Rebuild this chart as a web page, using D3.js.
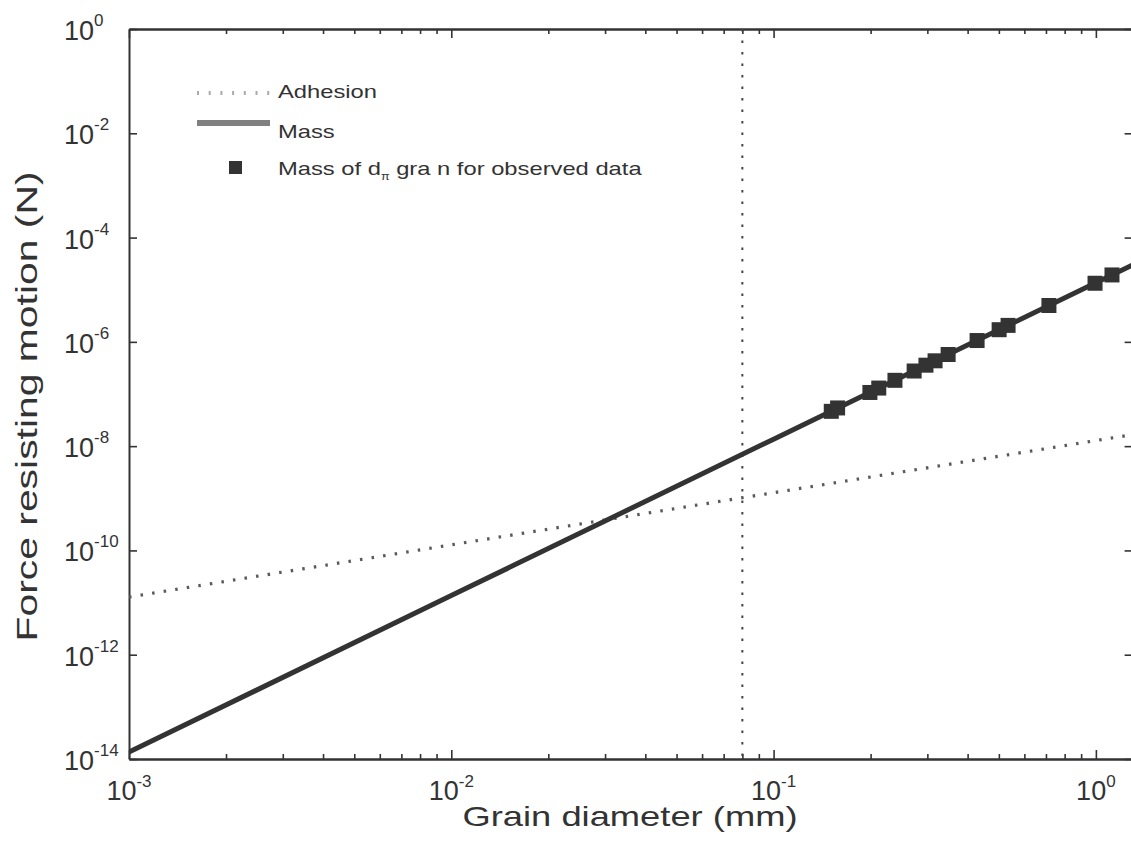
<!DOCTYPE html>
<html>
<head>
<meta charset="utf-8">
<script src="https://cdn.jsdelivr.net/npm/d3@7"></script>
<style>
  body { margin: 0; background: #fff; }
  svg { display: block; }
  text { font-family: "Liberation Sans", Arial, Helvetica, sans-serif; fill: #333; }
</style>
</head>
<body>
<svg id="chart" width="1131" height="854"></svg>
<script>
// Grain diameter (mm) decades and force (N) decades shown on the axes
const diameterTicks = [1e-3, 1e-2, 1e-1, 1e0];
const forceTicks = [1e0, 1e-2, 1e-4, 1e-6, 1e-8, 1e-10, 1e-12, 1e-14];

// Weight of a single grain, N (cubic in diameter)
const massD = [0.001, 0.01, 0.1, 1, 1.3];
const massF = [1.36e-14, 1.36e-11, 1.36e-8, 1.36e-5, 2.99e-5];

// Adhesion force, N (linear in diameter)
const adhesionD = [0.001, 0.01, 0.1, 1, 1.3];
const adhesionF = [1.28e-11, 1.28e-10, 1.28e-9, 1.28e-8, 1.66e-8];

// Grain diameters from the observed samples and their weights
const observedD = [0.151, 0.158, 0.199, 0.212, 0.238, 0.273, 0.297, 0.317, 0.348, 0.428, 0.501, 0.534, 0.715, 0.994, 1.122];
const observedF = [4.65e-8, 5.40e-8, 1.07e-7, 1.30e-7, 1.83e-7, 2.76e-7, 3.57e-7, 4.33e-7, 5.72e-7, 1.06e-6, 1.71e-6, 2.07e-6, 4.98e-6, 1.33e-5, 1.92e-5];

// Diameter where the vertical reference line is drawn
const thresholdD = 0.08;

const legendLabels = ["Adhesion", "Mass", "Mass of d", "π", " gra n for observed data"];
const xTitle = "Grain diameter (mm)";
const yTitle = "Force resisting motion (N)";

const svg = d3.select("#chart");
const L = 129, R = 1132.6, T = 29, B = 759;
const ink = "#333";

const x = d3.scaleLog().domain([1e-3, 1.3]).range([L, R]);
const y = d3.scaleLog().domain([1e-14, 1e0]).range([B, T]);

// minor ticks: 2..9 within each decade on the diameter axis
const minorX = [];
diameterTicks.forEach(dec => {
  for (let k = 2; k <= 9; k++) {
    const v = dec * k;
    if (v <= 1.3) minorX.push(v);
  }
});

const exponent = v => String(Math.round(Math.log10(v)));

function styleAxis(g) {
  g.select(".domain").attr("stroke", ink).attr("stroke-width", 2);
  g.selectAll(".tick line").attr("stroke", ink).attr("stroke-width", 1.6);
  g.selectAll(".tick text").remove();
}

// plot frame and ticks
const bottomAxis = svg.append("g").attr("transform", `translate(0,${B})`)
  .call(d3.axisBottom(x).tickValues(diameterTicks).tickSizeInner(-9).tickSizeOuter(0).tickFormat(() => ""));
styleAxis(bottomAxis);
const bottomMinor = svg.append("g").attr("transform", `translate(0,${B})`)
  .call(d3.axisBottom(x).tickValues(minorX).tickSizeInner(-5).tickSizeOuter(0).tickFormat(() => ""));
styleAxis(bottomMinor);

const topAxis = svg.append("g").attr("transform", `translate(0,${T})`)
  .call(d3.axisTop(x).tickValues(diameterTicks).tickSizeInner(-9).tickSizeOuter(0).tickFormat(() => ""));
styleAxis(topAxis);
const topMinor = svg.append("g").attr("transform", `translate(0,${T})`)
  .call(d3.axisTop(x).tickValues(minorX).tickSizeInner(-5).tickSizeOuter(0).tickFormat(() => ""));
styleAxis(topMinor);

const leftAxis = svg.append("g").attr("transform", `translate(${L},0)`)
  .call(d3.axisLeft(y).tickValues(forceTicks).tickSizeInner(-8).tickSizeOuter(0).tickFormat(() => ""));
styleAxis(leftAxis);
const rightAxis = svg.append("g").attr("transform", `translate(${R},0)`)
  .call(d3.axisRight(y).tickValues(forceTicks).tickSizeInner(-8).tickSizeOuter(0).tickFormat(() => ""));
styleAxis(rightAxis);

// tick labels as powers of ten
diameterTicks.forEach(v => {
  const t = svg.append("text").attr("x", x(v)).attr("y", 800)
    .attr("text-anchor", "middle").attr("font-size", 27);
  t.append("tspan").text("10");
  t.append("tspan").attr("dy", -13).attr("font-size", 17).text(exponent(v));
});
forceTicks.forEach(v => {
  const t = svg.append("text").attr("x", 64).attr("y", y(v) + 11)
    .attr("text-anchor", "start").attr("font-size", 27);
  t.append("tspan").text("10");
  t.append("tspan").attr("dy", -14).attr("font-size", 17).text(exponent(v));
});

// axis titles
svg.append("text").attr("x", (L + 1131) / 2).attr("y", 826)
  .attr("text-anchor", "middle").attr("font-size", 28)
  .attr("textLength", 335).attr("lengthAdjust", "spacingAndGlyphs")
  .text(xTitle);
svg.append("text").attr("transform", `translate(37,${(170 + 643) / 2}) rotate(-90)`)
  .attr("text-anchor", "middle").attr("font-size", 29)
  .attr("textLength", 470).attr("lengthAdjust", "spacingAndGlyphs")
  .text(yTitle);

// data layers, clipped to the plot box
svg.append("clipPath").attr("id", "plotClip")
  .append("rect").attr("x", L).attr("y", T).attr("width", R - L).attr("height", B - T);
const plot = svg.append("g").attr("clip-path", "url(#plotClip)");

const line = d3.line().x(d => x(d[0])).y(d => y(d[1]));

// vertical reference line
plot.append("line")
  .attr("x1", x(thresholdD)).attr("x2", x(thresholdD))
  .attr("y1", T).attr("y2", B)
  .attr("stroke", "#444").attr("stroke-width", 2)
  .attr("stroke-dasharray", "2.5,9");

// adhesion (dotted)
plot.append("path")
  .datum(d3.zip(adhesionD, adhesionF))
  .attr("d", line)
  .attr("fill", "none").attr("stroke", "#5a5a5a").attr("stroke-width", 3.2)
  .attr("stroke-dasharray", "2.5,9.2");

// mass (solid)
plot.append("path")
  .datum(d3.zip(massD, massF))
  .attr("d", line)
  .attr("fill", "none").attr("stroke", "#333").attr("stroke-width", 5);

// observed grains
const sq = 15;
plot.selectAll("rect.obs")
  .data(d3.zip(observedD, observedF))
  .join("rect").attr("class", "obs")
  .attr("x", d => x(d[0]) - sq / 2).attr("y", d => y(d[1]) - sq / 2)
  .attr("width", sq).attr("height", sq)
  .attr("fill", "#333");

// legend (text slightly widened)
const lg = svg.append("g");
lg.append("line").attr("x1", 197).attr("x2", 270).attr("y1", 93).attr("y2", 93)
  .attr("stroke", "#aaa").attr("stroke-width", 4).attr("stroke-dasharray", "2,9.7");
lg.append("text").attr("transform", "translate(278,98) scale(1.25,1)").attr("font-size", 19)
  .text(legendLabels[0]);

lg.append("line").attr("x1", 197).attr("x2", 270).attr("y1", 123).attr("y2", 123)
  .attr("stroke", "#808080").attr("stroke-width", 6);
lg.append("text").attr("transform", "translate(278,138) scale(1.25,1)").attr("font-size", 19)
  .text(legendLabels[1]);

lg.append("rect").attr("x", 229).attr("y", 161).attr("width", 13).attr("height", 13).attr("fill", "#333");
const t3 = lg.append("text").attr("transform", "translate(278,175) scale(1.25,1)").attr("font-size", 19);
t3.append("tspan").text(legendLabels[2]);
t3.append("tspan").attr("dy", 5).attr("font-size", 10).text(legendLabels[3]);
t3.append("tspan").attr("dy", -5).text(legendLabels[4]);
</script>
</body>
</html>
